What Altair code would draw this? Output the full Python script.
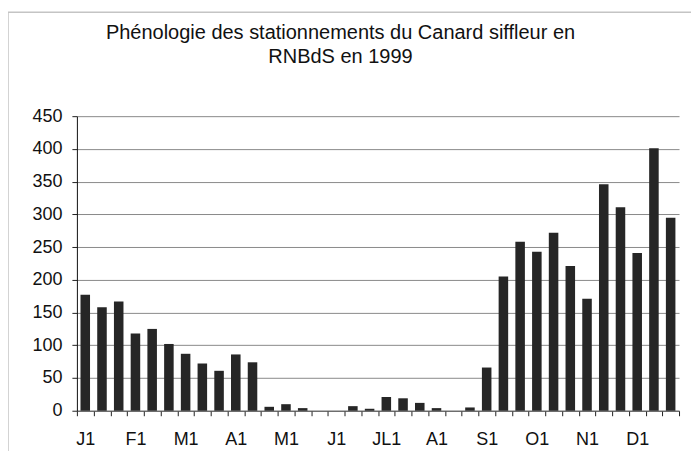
import altair as alt
import pandas as pd

# Decades (3 per month)
months = ["J1", "F1", "M1", "A1", "M1", "J1", "JL1", "A1", "S1", "O1", "N1", "D1"]
values = [177, 158, 167, 118, 125, 102, 87, 72, 61, 86, 74, 6,
          10, 4, 0, 0, 7, 3, 21, 19, 12, 4, 0, 5,
          66, 205, 258, 243, 272, 221, 171, 346, 311, 241, 401, 295]
y_ticks = [0, 50, 100, 150, 200, 250, 300, 350, 400, 450]
title_lines = ["Phénologie des stationnements du Canard siffleur en", "RNBdS en 1999"]

slot_labels = []
for m in months:
    slot_labels += [m, "", ""]

df = pd.DataFrame({"slot": list(range(len(values))), "value": values})
label_expr = "[" + ",".join("'" + s + "'" for s in slot_labels) + "][datum.value]"

FONT = "Liberation Sans"

bars = alt.Chart(df).mark_bar(
    color="#262626", width=alt.RelativeBandSize(0.57)
).encode(
    x=alt.X("slot:O",
            scale=alt.Scale(paddingInner=0, paddingOuter=0),
            axis=alt.Axis(title=None, labelExpr=label_expr, labelAngle=0,
                          tickBand="extent", tickSize=5, tickColor="#222",
                          domainColor="#555", labelFont=FONT, labelFontSize=18,
                          labelColor="#111", labelPadding=15, grid=False)),
    y=alt.Y("value:Q",
            scale=alt.Scale(domain=[0, 450], nice=False),
            axis=alt.Axis(title=None, values=y_ticks, tickSize=5, tickColor="#222",
                          domainColor="#111", labelFont=FONT, labelFontSize=18,
                          labelColor="#111", labelPadding=10, grid=True,
                          gridColor="#8a8a8a", gridWidth=1)),
)

frame = alt.Chart(pd.DataFrame({"a": [0]})).mark_rect(
    fill=None, stroke="#c4c4c4", strokeWidth=1.5
).encode(
    x=alt.value(-69), x2=alt.value(680),
    y=alt.value(-104), y2=alt.value(400),
)

title_layers = []
for i, line in enumerate(title_lines):
    title_layers.append(
        alt.Chart(pd.DataFrame({"t": [line]})).mark_text(
            font=FONT, fontSize=20, color="#111", align="center",
            baseline="alphabetic"
        ).encode(x=alt.value(264), y=alt.value(-77 + 24 * i), text="t:N")
    )

chart = alt.layer(frame, bars, *title_layers).properties(
    width=603,
    height=295,
    padding={"left": 69, "top": 108, "right": 12, "bottom": 40},
    autosize=alt.AutoSizeParams(type="none"),
).configure_view(stroke=None)

chart.save("out.html", embed_options={"renderer": "svg", "actions": False})
